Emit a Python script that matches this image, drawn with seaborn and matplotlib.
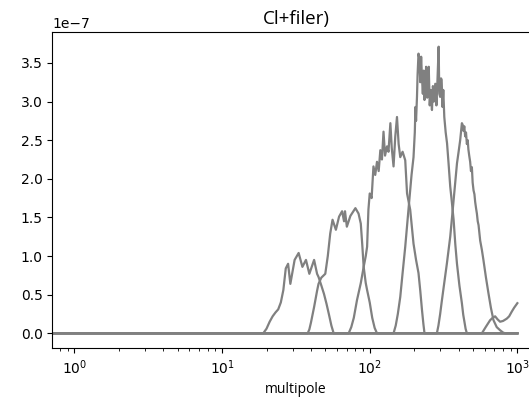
import numpy as np
import pandas as pd
import matplotlib
matplotlib.use("Agg")
import matplotlib.pyplot as plt
import seaborn as sns

# Bin window functions (values in units of 1e-7)
ell_1 = [0, 19, 20, 21, 22, 23, 24, 25, 26, 27, 28, 29, 31, 33, 35, 37, 39, 42, 44, 45, 47, 49, 51, 53, 55, 57, 1000]
win_1 = [0, 0, 0.06, 0.15, 0.22, 0.27, 0.31, 0.40, 0.56, 0.84, 0.90, 0.64, 0.95, 1.04, 0.86, 0.95, 0.77,
         0.95, 0.77, 0.73, 0.62, 0.51, 0.38, 0.24, 0.10, 0, 0]

ell_2 = [0, 38, 39, 40, 42, 44, 45, 47, 50, 52, 54, 56, 59, 62, 65, 67, 68, 70, 74, 80, 84, 87, 89, 91,
         94, 96, 100, 104, 108, 112, 1000]
win_2 = [0, 0, 0.05, 0.14, 0.34, 0.55, 0.64, 0.72, 0.77, 1.00, 1.29, 1.47, 1.34, 1.51, 1.58, 1.45, 1.58,
         1.38, 1.52, 1.62, 1.55, 1.42, 1.15, 0.86, 0.65, 0.56, 0.40, 0.20, 0.07, 0, 0]

ell_3 = [0, 72, 75, 78, 82, 87, 91, 94, 96, 98, 100, 103, 106, 109, 112, 115, 118, 121, 124, 127, 131, 134,
         138, 141, 145, 149, 153, 157, 161, 167, 174, 179, 188, 198, 206, 214, 220, 226, 231, 235, 1000]
win_3 = [0, 0, 0.08, 0.20, 0.43, 0.65, 0.86, 1.00, 1.12, 1.60, 1.81, 1.75, 2.16, 2.05, 2.22, 2.10, 2.37,
         2.25, 2.61, 2.30, 2.42, 2.35, 2.72, 2.40, 2.16, 2.55, 2.80, 2.45, 2.28, 2.35, 2.24, 1.81, 1.60,
         1.16, 0.95, 0.78, 0.55, 0.30, 0.12, 0, 0]

ell_4 = [0, 145, 150, 155, 161, 167, 174, 183, 192, 198, 202, 204, 206, 209, 211, 214, 217, 220, 223, 226,
         229, 232, 235, 238, 241, 245, 248, 251, 255, 259, 264, 268, 272, 278, 283, 288, 293, 296, 300, 304,
         307, 311, 315, 320, 327, 334, 342, 351, 360, 370, 380, 390, 405, 421, 430, 438, 446, 455, 1000]
win_4 = [0, 0, 0.10, 0.25, 0.47, 0.78, 1.12, 1.60, 2.05, 2.28, 2.60, 2.93, 2.75, 3.06, 3.35, 3.62, 3.55,
         3.25, 3.58, 3.30, 3.10, 3.40, 3.02, 3.20, 3.45, 3.05, 3.30, 3.45, 2.95, 3.15, 2.89, 3.20, 3.00,
         3.23, 2.95, 3.30, 3.71, 3.10, 3.06, 3.30, 3.28, 2.93, 3.15, 2.80, 2.60, 2.46, 2.20, 1.90, 1.70,
         1.47, 1.15, 0.90, 0.62, 0.39, 0.24, 0.15, 0.06, 0, 0]

ell_5 = [0, 285, 292, 300, 307, 315, 333, 351, 365, 379, 390, 400, 410, 416, 421, 426, 432, 437, 443, 449,
         455, 461, 466, 472, 479, 485, 492, 498, 505, 512, 518, 525, 532, 539, 546, 560, 575, 589, 613, 637,
         662, 689, 725, 764, 800, 826, 1000]
win_5 = [0, 0, 0.10, 0.25, 0.40, 0.56, 0.90, 1.25, 1.60, 1.94, 2.20, 2.35, 2.50, 2.62, 2.72, 2.70, 2.62,
         2.68, 2.55, 2.60, 2.45, 2.50, 2.38, 2.30, 2.22, 2.10, 2.15, 1.95, 1.85, 1.80, 1.70, 1.62, 1.55,
         1.45, 1.40, 1.20, 1.08, 0.95, 0.72, 0.52, 0.33, 0.17, 0.08, 0.04, 0.01, 0, 0]

ell_6 = [0, 575, 610, 654, 680, 707, 735, 764, 800, 848, 880, 916, 950, 1000]
win_6 = [0, 0, 0.08, 0.17, 0.20, 0.22, 0.18, 0.15, 0.16, 0.19, 0.22, 0.28, 0.33, 0.39]

bins = [(ell_1, win_1), (ell_2, win_2), (ell_3, win_3), (ell_4, win_4), (ell_5, win_5), (ell_6, win_6)]
frames = []
for i, (e, w) in enumerate(bins):
    frames.append(pd.DataFrame({"ell": e, "W": np.array(w) * 1e-7, "bin": f"b{i}"}))
df = pd.concat(frames, ignore_index=True)

fig = plt.figure(figsize=(5.29, 3.97), dpi=100)
ax = fig.add_axes([52.3 / 529, 1 - 348.3 / 397, 487.2 / 529, 316.3 / 397])

sns.lineplot(data=df, x="ell", y="W", hue="bin", palette=["#808080"] * len(bins),
             estimator=None, sort=False, legend=False, linewidth=1.6, ax=ax)

ax.set_xscale("log")
ax.set_xlim(10 ** -0.15, 10 ** 3.15)
ax.set_ylim(-0.194e-7, 3.90e-7)
ax.set_ylabel("")
ax.set_xlabel("multipole", fontsize=10, family=["Open Sans", "DejaVu Sans"])
ax.set_title("Cl+filer)", fontsize=13.5, family=["Open Sans", "DejaVu Sans"])

fig.savefig("out.png", dpi=100)
